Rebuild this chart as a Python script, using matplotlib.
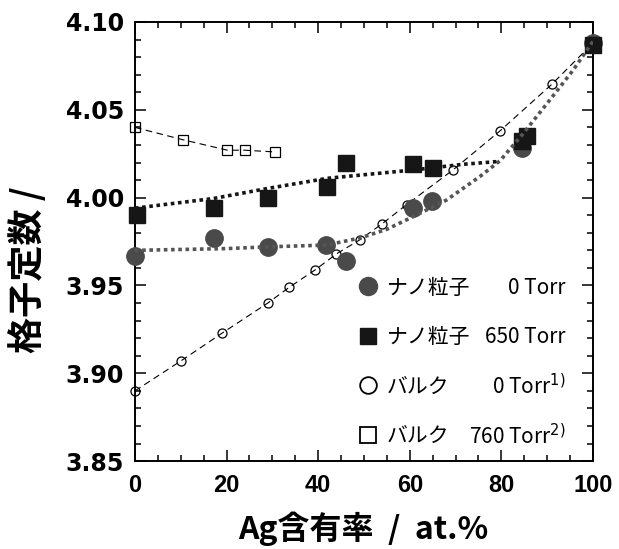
import matplotlib
matplotlib.use('Agg')
import matplotlib.pyplot as plt
from matplotlib.lines import Line2D
from matplotlib.ticker import MultipleLocator

plt.rcParams['font.family'] = ['Noto Sans CJK JP', 'DejaVu Sans']

# nanoparticles, 0 Torr
nano0_x = [0, 17.3, 29.1, 41.8, 46.1, 60.6, 64.8, 84.5, 100]
nano0_y = [3.967, 3.977, 3.972, 3.973, 3.964, 3.994, 3.998, 4.028, 4.088]
# nanoparticles, 650 Torr
nano650_x = [0.4, 17.3, 29.1, 42.0, 46.1, 60.6, 65.0, 84.6, 85.7, 100]
nano650_y = [3.990, 3.994, 4.000, 4.006, 4.0195, 4.019, 4.017, 4.032, 4.035, 4.087]
# bulk, 0 Torr (ref 1)
bulk0_x = [0, 10, 19.1, 29, 33.7, 39.4, 44, 49.1, 53.9, 59.3, 69.4, 79.7, 91, 100]
bulk0_y = [3.890, 3.907, 3.923, 3.940, 3.949, 3.959, 3.968, 3.976, 3.985, 3.996,
           4.0157, 4.038, 4.0645, 4.088]
# bulk, 760 Torr (ref 2)
bulk760_x = [0, 10.4, 20.2, 24, 30.6]
bulk760_y = [4.040, 4.033, 4.027, 4.027, 4.026]

# fitted guide curves
fit0_x = [0, 20, 29.1, 41.8, 49.1, 55, 60.6, 68, 75.3, 79.7, 84.8, 91, 95.7, 100]
fit0_y = [3.970, 3.971, 3.972, 3.973, 3.977, 3.982, 3.989, 3.9986, 4.012, 4.021,
          4.0366, 4.057, 4.0727, 4.089]
fit650_x = [0, 17.1, 29.1, 42.0, 53, 60.6, 71.7, 79]
fit650_y = [3.994, 3.9995, 4.0053, 4.011, 4.0138, 4.0157, 4.019, 4.0205]

xticks = [0, 20, 40, 60, 80, 100]
yticks = [3.85, 3.90, 3.95, 4.00, 4.05, 4.10]

gray = '#4a4a4a'
black = '#161616'

fig = plt.figure(figsize=(6.19, 5.49), dpi=100)
ax = fig.add_axes([0.218, 0.160, 0.740, 0.800])

ax.plot(bulk0_x, bulk0_y, ls=(0, (6, 4)), lw=0.8, color='black', marker='o',
        ms=6.5, mfc='none', mec='black', mew=0.9, zorder=2, clip_on=False)
ax.plot(bulk760_x, bulk760_y, ls=(0, (6, 4)), lw=0.8, color='black', marker='s',
        ms=6.5, mfc='none', mec='black', mew=0.9, zorder=2, clip_on=False)
ax.plot(nano0_x, nano0_y, ls='none', marker='o', ms=12.5, color=gray, mec=gray,
        zorder=3, clip_on=False)
ax.plot(nano650_x, nano650_y, ls='none', marker='s', ms=11.5, color=black, mec=black,
        zorder=3, clip_on=False)
ax.plot(fit0_x, fit0_y, ls=(0, (1, 1)), lw=2.6, color='#555555', zorder=4)
ax.plot(fit650_x, fit650_y, ls=(0, (1, 1)), lw=2.6, color='#151515', zorder=4)

ax.set_xlim(0, 100)
ax.set_ylim(3.85, 4.10)
ax.xaxis.set_minor_locator(MultipleLocator(5))
ax.yaxis.set_minor_locator(MultipleLocator(0.01))
ax.tick_params(which='both', direction='in', top=True, right=True, width=1.1)
ax.tick_params(which='major', length=8)
ax.tick_params(which='minor', length=4)
ax.tick_params(axis='x', pad=9)
ax.tick_params(axis='y', pad=8)
for sp in ax.spines.values():
    sp.set_linewidth(1.4)

ax.set_xticks(xticks)
ax.set_xticklabels([str(v) for v in xticks], fontfamily=['Liberation Sans', 'DejaVu Sans'],
                   fontweight='bold', fontsize=17)
ax.set_yticks(yticks)
ax.set_yticklabels(['%.2f' % v for v in yticks], fontfamily=['DejaVu Sans'],
                   fontweight='bold', fontsize=17)

fig.text(363 / 619, 1 - 529 / 549, 'Ag含有率  /  at.%', fontsize=23, fontweight='bold',
         ha='center', va='center')
fig.text(28 / 619, 1 - 270 / 549, '格子定数 /', fontsize=26, fontweight='bold',
         rotation=90, ha='center', va='center')

names = ['ナノ粒子', 'ナノ粒子', 'バルク', 'バルク']
pressures = ['0 Torr', '650 Torr', '0 Torr$^{1)}$', '760 Torr$^{2)}$']
handles = [
    Line2D([], [], ls='none', marker='o', ms=13, color=gray, mec=gray),
    Line2D([], [], ls='none', marker='s', ms=12, color=black, mec=black),
    Line2D([], [], ls='none', marker='o', ms=12, mfc='none', mec='black', mew=1.3),
    Line2D([], [], ls='none', marker='s', ms=12, mfc='none', mec='black', mew=1.3),
]
leg = ax.legend(handles, names, loc='lower left', bbox_to_anchor=(0.47, 0.013),
                frameon=False, fontsize=15, labelspacing=1.32, handlelength=0.9,
                handletextpad=0.45, borderaxespad=0)

fig.canvas.draw()
inv = ax.transAxes.inverted()
for t, p in zip(leg.get_texts(), pressures):
    bb = t.get_window_extent()
    yc = inv.transform((0, (bb.y0 + bb.y1) / 2))[1]
    ax.text(0.94, yc, p, transform=ax.transAxes, ha='right', va='center',
            fontsize=15)

fig.savefig('out.png', dpi=100)
